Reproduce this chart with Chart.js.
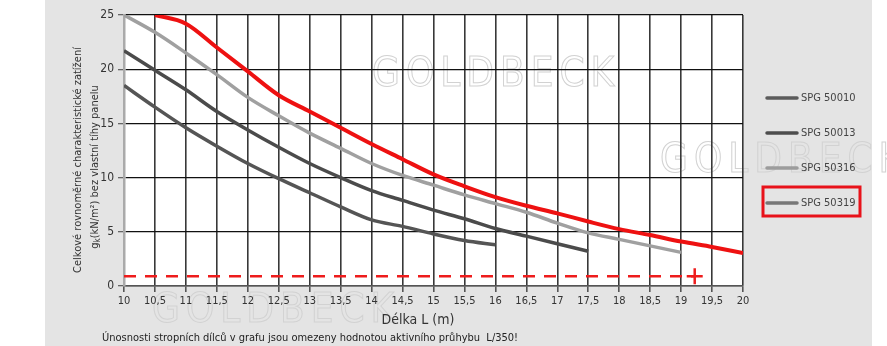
<!DOCTYPE html>
<html lang="cs">
<head>
<meta charset="utf-8">
<title>Únosnost SPG</title>
<script src="https://cdn.jsdelivr.net/npm/chart.js@4/dist/chart.umd.min.js"></script>
<style>
  html, body { margin: 0; padding: 0; background: #fff; }
  #wrap { width: 887px; height: 346px; }
</style>
</head>
<body>
<div id="wrap"><canvas id="loadChart" width="887" height="346"></canvas></div>
<script>
// délky panelů (m)
const lengths = [10, 10.5, 11, 11.5, 12, 12.5, 13, 13.5, 14, 14.5, 15, 15.5, 16, 16.5, 17, 17.5, 18, 18.5, 19, 19.5, 20];

// zatížení gk (kN/m2) pro jednotlivé typy
const spg50010 = [18.5, 16.5, 14.6, 12.9, 11.3, 9.9, 8.6, 7.3, 6.1, 5.5, 4.8, 4.2, 3.8];
const spg50013 = [21.7, 19.9, 18.1, 16.1, 14.4, 12.8, 11.3, 10.0, 8.8, 7.9, 7.0, 6.2, 5.3, 4.6, 3.9, 3.2];
const spg50316 = [25, 23.4, 21.5, 19.5, 17.4, 15.7, 14.1, 12.7, 11.3, 10.2, 9.3, 8.4, 7.6, 6.8, 5.8, 4.9, 4.3, 3.7, 3.1];
const spg50319 = [null, 25, 24.2, 22.0, 19.8, 17.6, 16.1, 14.6, 13.1, 11.7, 10.3, 9.2, 8.2, 7.4, 6.7, 5.95, 5.25, 4.7, 4.1, 3.6, 3.05];

// mezní čára (přerušovaná)
const limitLengths = [10, 19.22];
const limitLoad = 0.9;

const yTicks = [0, 5, 10, 15, 20, 25];
const legendLabels = ['SPG 50010', 'SPG 50013', 'SPG 50316', 'SPG 50319'];

const FONT = "'Liberation Sans Narrow', 'DejaVu Sans Condensed', sans-serif";

function toPoints(values) {
    return values.map((v, i) => ({ x: lengths[i], y: v }));
}

// pozadí, vodoznak, legenda a popisky os
const decorPlugin = {
    id: 'decor',
    beforeDraw(chart) {
        const ctx = chart.ctx;
        const a = chart.chartArea;
        ctx.save();
        ctx.fillStyle = '#fff';
        ctx.fillRect(0, 0, chart.width, chart.height);
        ctx.fillStyle = '#e4e4e4';
        ctx.fillRect(45, 0, 827, chart.height);
        ctx.fillStyle = '#fff';
        ctx.fillRect(a.left, a.top, a.right - a.left, a.bottom - a.top);

        // vodoznak
        ctx.strokeStyle = '#d2d2d2';
        ctx.lineWidth = 1;
        ctx.font = '40px ' + FONT;
        ctx.letterSpacing = '6px';
        ctx.textBaseline = 'alphabetic';
        ctx.strokeText('GOLDBECK', 372, 86);
        ctx.strokeText('GOLDBECK', 660, 172);
        ctx.strokeText('GOLDBECK', 152, 322);
        ctx.letterSpacing = '0px';
        ctx.restore();
    },
    afterDraw(chart) {
        const ctx = chart.ctx;
        ctx.save();
        ctx.fillStyle = '#333';
        ctx.textBaseline = 'middle';

        // popis osy y
        ctx.save();
        ctx.translate(78, 160);
        ctx.rotate(-Math.PI / 2);
        ctx.font = '11px ' + FONT;
        ctx.textAlign = 'center';
        ctx.fillText('Celkové rovnoměrné charakteristické zatížení', 0, 0);
        ctx.restore();

        ctx.save();
        ctx.translate(95, 167);
        ctx.rotate(-Math.PI / 2);
        ctx.font = '11px ' + FONT;
        ctx.textAlign = 'left';
        const p1 = 'g', p2 = 'k', p3 = '(kN/m²) bez vlastní tíhy panelu';
        const w1 = ctx.measureText(p1).width;
        ctx.font = '8px ' + FONT;
        const w2 = ctx.measureText(p2).width;
        ctx.font = '11px ' + FONT;
        const w3 = ctx.measureText(p3).width;
        let x = -(w1 + w2 + w3) / 2;
        ctx.fillText(p1, x, 0);
        x += w1;
        ctx.font = '8px ' + FONT;
        ctx.fillText(p2, x, 3);
        x += w2;
        ctx.font = '11px ' + FONT;
        ctx.fillText(p3, x, 0);
        ctx.restore();

        // popis osy x a poznámka
        ctx.textAlign = 'center';
        ctx.font = '14px ' + FONT;
        ctx.fillText('Délka L (m)', 418, 320);
        ctx.textAlign = 'left';
        ctx.font = '11px ' + FONT;
        ctx.fillStyle = '#222';
        ctx.fillText('Únosnosti stropních dílců v grafu jsou omezeny hodnotou aktivního průhybu  L/350!', 102, 338);

        // legenda
        const sets = chart.data.datasets;
        ctx.font = '11px ' + FONT;
        legendLabels.forEach((label, i) => {
            const y = 98 + i * 35;
            ctx.strokeStyle = sets[i].legendColor;
            ctx.lineWidth = 3.5;
            ctx.lineCap = 'round';
            ctx.beginPath();
            ctx.moveTo(767, y);
            ctx.lineTo(797, y);
            ctx.stroke();
            ctx.fillStyle = '#444';
            ctx.fillText(label, 801, y);
        });
        ctx.strokeStyle = '#e8121a';
        ctx.lineWidth = 3;
        ctx.lineCap = 'butt';
        ctx.strokeRect(763, 187, 97, 29);
        ctx.restore();
    }
};

const lineBase = {
    fill: false,
    pointRadius: 0,
    cubicInterpolationMode: 'monotone',
    spanGaps: false
};

new Chart(document.getElementById('loadChart'), {
    type: 'line',
    data: {
        datasets: [
            { ...lineBase, label: legendLabels[0], data: toPoints(spg50010), borderColor: '#555', borderWidth: 3.5, legendColor: '#5b5b5b' },
            { ...lineBase, label: legendLabels[1], data: toPoints(spg50013), borderColor: '#4b4b4b', borderWidth: 3.5, legendColor: '#4d4d4d' },
            { ...lineBase, label: legendLabels[2], data: toPoints(spg50316), borderColor: '#a0a0a0', borderWidth: 3.5, legendColor: '#9c9c9c' },
            { ...lineBase, label: legendLabels[3], data: toPoints(spg50319), borderColor: '#ee1111', borderWidth: 4, legendColor: '#777' },
            {
                label: 'limit',
                data: limitLengths.map(x => ({ x: x, y: limitLoad })),
                borderColor: '#ee1c1c',
                borderWidth: 2.5,
                borderDash: [12, 9],
                pointStyle: 'cross',
                pointRadius: [0, 8],
                pointBorderColor: '#ee1c1c',
                pointBorderWidth: 2.5,
                fill: false
            }
        ]
    },
    options: {
        responsive: false,
        animation: false,
        devicePixelRatio: 1,
        layout: { padding: { left: 0, right: 144, top: 15, bottom: 0 } },
        plugins: {
            legend: { display: false },
            tooltip: { enabled: false }
        },
        scales: {
            x: {
                type: 'linear',
                min: 10,
                max: 20,
                afterFit: scale => { scale.height = 60; },
                ticks: {
                    stepSize: 0.5,
                    autoSkip: false,
                    maxRotation: 0,
                    padding: 3,
                    color: '#333',
                    font: { family: FONT, size: 11 },
                    callback: v => String(v).replace('.', ',')
                },
                grid: {
                    color: c => (c.tick && c.tick.value === 10) ? 'rgba(0,0,0,0)' : '#383838',
                    tickColor: '#555',
                    lineWidth: 1.6,
                    tickLength: 6
                },
                border: { display: true, color: '#555', width: 1.5 }
            },
            y: {
                min: 0,
                max: 25,
                afterFit: scale => { scale.width = 124; },
                afterBuildTicks: scale => { scale.ticks = yTicks.map(v => ({ value: v })); },
                ticks: {
                    padding: 4,
                    color: '#333',
                    font: { family: FONT, size: 12 }
                },
                grid: {
                    color: '#111',
                    tickColor: '#666',
                    lineWidth: 1.3,
                    tickLength: 6
                },
                border: { display: true, color: '#aaa', width: 2.5 }
            }
        }
    },
    plugins: [decorPlugin]
});
</script>
</body>
</html>
